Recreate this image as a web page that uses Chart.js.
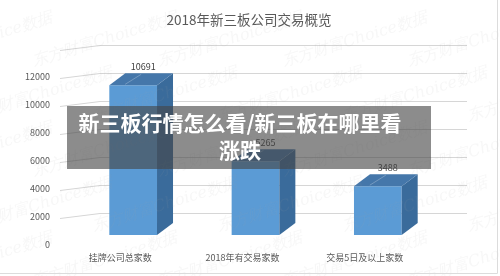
<!DOCTYPE html>
<html lang="zh">
<head>
    <meta charset="UTF-8">
    <title>2018年新三板公司交易概览</title>
    <style>
        body { margin: 0; background: #fff; }
        #wrap { position: relative; width: 500px; height: 276px; overflow: hidden; }
        #banner {
            position: absolute; left: 67px; top: 106px; width: 364px; height: 63px;
            box-sizing: border-box; padding: 3px 28px 0 10px;
            background: rgba(70, 70, 70, 0.62); color: #fff;
            font: bold 21px/27px "Noto Sans CJK SC", sans-serif; text-align: center;
        }
    </style>
</head>
<body>
    <div id="wrap">
        <canvas id="chart" width="500" height="276"></canvas>
        <div id="banner">新三板行情怎么看/新三板在哪里看<br>涨跌</div>
    </div>

    <script src="https://cdn.jsdelivr.net/npm/chart.js"></script>
    <script>
        // 数据
        const chartTitle = '2018年新三板公司交易概览';
        const categories = ['挂牌公司总家数', '2018年有交易家数', '交易5日及以上家数'];
        const companyCounts = [10691, 5265, 3488];
        const yTicks = [0, 2000, 4000, 6000, 8000, 10000, 12000, 14000];

        const FONT = '"Noto Sans CJK SC", "Liberation Sans", sans-serif';

        // 标题 + 背景网格线（带透视的斜线）
        const gridPlugin = {
            id: 'grid3d',
            beforeDatasetsDraw(chart) {
                const y = chart.scales.y;
                const ctx = chart.ctx;
                ctx.save();
                ctx.fillStyle = '#595959';
                ctx.font = '13.5px ' + FONT;
                ctx.textAlign = 'center';
                ctx.textBaseline = 'middle';
                ctx.fillText(chartTitle, 249, 20);

                ctx.strokeStyle = '#d6d6d6';
                ctx.lineWidth = 1;
                yTicks.forEach(v => {
                    if (v === 0) return;
                    const yb = Math.round(y.getPixelForValue(v) + 6) + 0.5;
                    ctx.beginPath();
                    ctx.moveTo(60, yb + 5);
                    ctx.lineTo(100, yb);
                    ctx.lineTo(467, yb);
                    ctx.stroke();
                });
                ctx.restore();
            }
        };

        // 立体柱子的侧面、顶面和数值标签
        const barPlugin = {
            id: 'bar3d',
            afterDatasetsDraw(chart) {
                const ctx = chart.ctx;
                const meta = chart.getDatasetMeta(0);
                const dx = 16, dy = -12;
                ctx.save();
                meta.data.forEach((bar, i) => {
                    const l = bar.x - bar.width / 2;
                    const r = bar.x + bar.width / 2;
                    const t = bar.y;
                    const b = bar.base;
                    // 侧面
                    ctx.fillStyle = '#3a6b9b';
                    ctx.beginPath();
                    ctx.moveTo(r, t);
                    ctx.lineTo(r + dx, t + dy);
                    ctx.lineTo(r + dx, b + dy);
                    ctx.lineTo(r, b);
                    ctx.closePath();
                    ctx.fill();
                    // 顶面
                    ctx.fillStyle = '#4577aa';
                    ctx.beginPath();
                    ctx.moveTo(l, t);
                    ctx.lineTo(l + dx, t + dy);
                    ctx.lineTo(r + dx, t + dy);
                    ctx.lineTo(r, t);
                    ctx.closePath();
                    ctx.fill();
                    ctx.strokeStyle = 'rgba(255,255,255,0.25)';
                    ctx.beginPath();
                    ctx.moveTo(bar.x - 8, t - 1);
                    ctx.lineTo(bar.x + 8, t + dy + 1);
                    ctx.stroke();
                    // 数值
                    ctx.fillStyle = '#404040';
                    ctx.font = '9px ' + FONT;
                    ctx.textAlign = 'center';
                    ctx.textBaseline = 'middle';
                    ctx.fillText(companyCounts[i], bar.x + 10, t - 19);
                });
                // 水印
                ctx.fillStyle = 'rgba(170,170,170,0.09)';
                ctx.font = 'italic 16px "DejaVu Serif", serif';
                for (let row = 0; row < 6; row++) {
                    for (let col = 0; col < 5; col++) {
                        ctx.save();
                        ctx.translate(col * 125 - 20 + (row % 2) * 60, row * 55 + 40);
                        ctx.rotate(-0.3);
                        ctx.fillText('东方财富Choice数据', 0, 0);
                        ctx.restore();
                    }
                }
                // 外框
                ctx.strokeStyle = '#dcdcdc';
                ctx.beginPath();
                ctx.moveTo(0, 273.5);
                ctx.lineTo(497.5, 273.5);
                ctx.lineTo(497.5, 0);
                ctx.stroke();
                ctx.restore();
            }
        };

        new Chart(document.getElementById('chart').getContext('2d'), {
            type: 'bar',
            data: {
                labels: categories,
                datasets: [{
                    data: companyCounts,
                    backgroundColor: '#5b9bd5',
                    categoryPercentage: 1,
                    barPercentage: 0.39
                }]
            },
            options: {
                responsive: false,
                animation: false,
                layout: { padding: { left: 25, right: 61, top: 39, bottom: 0 } },
                scales: {
                    y: {
                        min: 0,
                        max: 14000,
                        border: { display: false },
                        grid: { display: false, drawTicks: false },
                        ticks: {
                            stepSize: 2000,
                            padding: 22,
                            labelOffset: 10,
                            color: '#595959',
                            font: { size: 9, family: FONT },
                            callback: v => (v === 14000 ? '' : v)
                        },
                        afterFit(scale) { scale.width = 47; }
                    },
                    x: {
                        border: { display: false },
                        grid: { display: false, drawTicks: false },
                        ticks: {
                            padding: 17,
                            labelOffset: -13,
                            maxRotation: 0,
                            color: '#595959',
                            font: { size: 9, family: FONT }
                        },
                        afterFit(scale) { scale.height = 41; }
                    }
                },
                plugins: {
                    legend: { display: false },
                    tooltip: { enabled: false },
                    title: { display: false }
                }
            },
            plugins: [gridPlugin, barPlugin]
        });
    </script>
</body>
</html>
